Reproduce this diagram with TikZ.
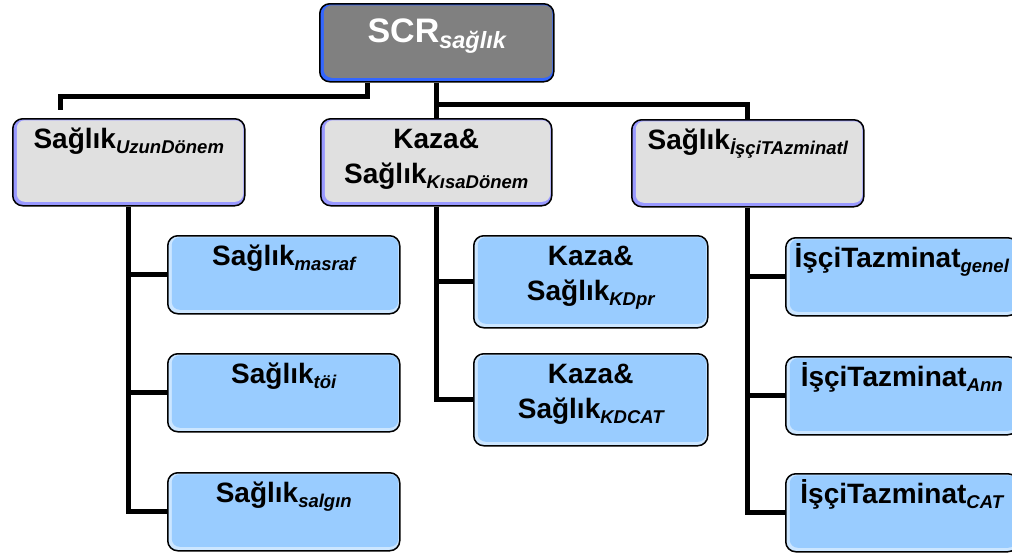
\documentclass[tikz,border=0pt]{standalone}
\usepackage{fontspec}
\setmainfont{Liberation Sans}
\usetikzlibrary{backgrounds}

\definecolor{topgray}{HTML}{808080}
\definecolor{topedge}{HTML}{3366FF}
\definecolor{midgray}{HTML}{E0E0E0}
\definecolor{midedge}{HTML}{9999FF}
\definecolor{leafblue}{HTML}{99CCFF}
\definecolor{leafedge}{HTML}{CCE6FF}

\newcommand{\lowsub}[1]{\raisebox{-5pt}{\fontsize{18.5}{20}\selectfont\bfseries\itshape #1}}
\newcommand{\topsub}[1]{\raisebox{-6pt}{\fontsize{23.5}{25}\selectfont\bfseries\itshape #1}}

\begin{document}
\begin{tikzpicture}[x=1pt, y=-1pt]
\tikzset{panel/.style={draw=black, line width=1.5pt, rounded corners=10pt, anchor=north west,
                       inner sep=0pt, align=center, text width=232pt, text height=30pt,
                       font=\fontsize{28}{35}\selectfont\bfseries}}
\tikzset{inset/.style={path picture={\fill[#1, rounded corners=8pt]
                       ([shift={(4pt,4pt)}]path picture bounding box.south west) rectangle
                       ([shift={(-1.5pt,-1.5pt)}]path picture bounding box.north east);}}}
\tikzset{topbox/.style={panel, fill=topedge, inset=topgray, text=white, text width=234pt,
                        text height=39pt, text depth=39pt, font=\fontsize{34}{40}\selectfont\bfseries}}
\tikzset{midbox/.style={panel, fill=midedge, inset=midgray, text depth=57pt}}
\tikzset{leafbox/.style={panel, fill=leafedge, inset=leafblue, text depth=48pt}}
\tikzset{tallleaf/.style={leafbox, text width=234pt, text depth=62pt}}
\tikzset{link/.style={draw=black, line width=5pt}}
\useasboundingbox (0,0) rectangle (1012,555);

% root
\node[topbox] (scr) at (319,3) {SCR\topsub{sağlık}};

% second level
\node[midbox] (uzun) at (12,118) {Sağlık\lowsub{UzunDönem}};
\node[midbox, text width=231pt] (kisa) at (320,118) {Kaza\&\\Sağlık\lowsub{KısaDönem}};
\node[midbox] (isci) at (631,119) {Sağlık\lowsub{İşçiTAzminatl}};

% leaves
\node[leafbox] (masraf) at (167,235) {Sağlık\lowsub{masraf}};
\node[leafbox] (toi) at (167,353) {Sağlık\lowsub{töi}};
\node[leafbox] (salgin) at (167,472) {Sağlık\lowsub{salgın}};
\node[tallleaf] (kdpr) at (473,235) {Kaza\&\\Sağlık\lowsub{KDpr}};
\node[tallleaf] (kdcat) at (473,353) {Kaza\&\\Sağlık\lowsub{KDCAT}};
\node[leafbox] (genel) at (785,237) {İşçiTazminat\lowsub{genel}};
\node[leafbox] (ann) at (785,356) {İşçiTazminat\lowsub{Ann}};
\node[leafbox] (cat) at (785,473) {İşçiTazminat\lowsub{CAT}};

\coordinate (uzungap) at (60,110);

\begin{scope}[on background layer]
\draw[link] ([xshift=-69pt]scr.south) -- ++(0,14) -| (uzungap);
\draw[link] (scr.south) -- (scr.south |- kisa.north);
\draw[link] ([yshift=-22pt]scr.south) -| (isci.north);

\draw[link] (uzun.south) |- (salgin.west);
\foreach \leaf in {masraf,toi}
  \draw[link] (uzun.south |- \leaf.west) -- (\leaf.west);

\draw[link] (kisa.south) |- (kdcat.west);
\draw[link] (kisa.south |- kdpr.west) -- (kdpr.west);

\draw[link] (isci.south) |- (cat.west);
\foreach \leaf in {genel,ann}
  \draw[link] (isci.south |- \leaf.west) -- (\leaf.west);
\end{scope}
\end{tikzpicture}
\end{document}
